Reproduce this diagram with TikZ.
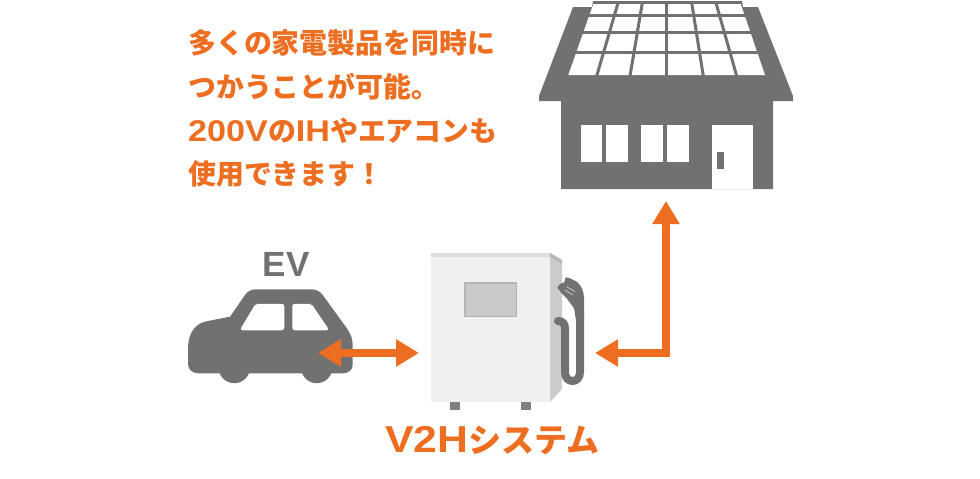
\documentclass[tikz,border=0pt]{standalone}
\usepackage{fontspec}
\usetikzlibrary{arrows.meta}
\newfontfamily\jpfont{Noto Sans CJK JP}
\newfontfamily\latinfont{Liberation Sans}
\newfontfamily\widefont[FakeStretch=1.14]{Liberation Sans}
\definecolor{orangeline}{HTML}{ED6E20}
\definecolor{iconfill}{HTML}{717171}
\tikzset{
  link/.style={draw=orangeline,line width=7.3pt,{Triangle[length=23pt,width=26pt]}-{Triangle[length=23pt,width=26pt]}},
  gridline/.style={draw=iconfill,line width=3pt},
  glass/.style={fill=white,draw=white,line width=1.5pt,rounded corners=2pt}
}
\newcommand{\notelatin}[1]{{\widefont\bfseries\fontsize{30}{43.7}\selectfont #1}}
\begin{document}
\begin{tikzpicture}[x=1pt,y=-1pt]
\useasboundingbox (0,0) rectangle (980,479);
% house
\fill [iconfill] (539,96) -- (573,7) -- (592,7) -- (593,1) -- (742,1) -- (743,7) -- (758,7) -- (793,96) -- (793,101) -- (773,101) -- (773,189) -- (561,189) -- (561,101) -- (539,101) -- cycle;
\fill [white] (593.3,4) -- (740.7,4) -- (765,75) -- (568.3,75) -- cycle;
\foreach \xa/\xb in {618/596.7,642.3/630,666.7/666.7,691.7/703.3,716/736.7}
{
    \draw [gridline] (\xa,3) -- (\xb,76);
}
\foreach \y/\xa/\xb in {15.7/588/746,32.5/582/752,52.7/575/759}
{
    \draw [gridline] (\xa,\y) -- (\xb,\y);
}
\foreach \x/\w in {581/21,606/22,641/22,667/22}
{
    \fill [white] (\x,125) rectangle (\x+\w,162);
}
\fill [white] (712,125) rectangle (753,189);
\fill [iconfill] (717,152) rectangle (724,169);
% car
\fill [iconfill] (234.3,367.5) circle (15.7);
\fill [iconfill] (316.7,367.5) circle (15.7);
\fill [iconfill] (188,350) .. controls (188,330) and (197,323) .. (208,321) -- (230,316.7) -- (245,295) .. controls (248,291) and (251,289.3) .. (256,289.3) -- (311,289.3) .. controls (316,289.3) and (319,291) .. (322,294) -- (343,323) .. controls (350,332) and (352.7,338) .. (352.7,345) -- (352.7,365) .. controls (352.7,370) and (348,373.3) .. (343,373.3) -- (198,373.3) .. controls (192,373.3) and (188,369) .. (188,364) -- cycle;
\path [glass] (256,304.5) -- (283.5,304.5) -- (283.5,329.5) -- (241,329.5) -- cycle;
\path [glass] (293,304.5) -- (311,304.5) -- (328,329.5) -- (293,329.5) -- cycle;
% v2h box
\fill [black!50] (450,400) rectangle (460,410);
\fill [black!50] (521,400) rectangle (531,410);
\fill [black!6] (431,253) rectangle (550,402);
\fill [black!13] (431,253) rectangle (550,257);
\fill [black!20] (550,253) -- (562,260) -- (562,389) -- (550,402) -- cycle;
\fill [black!28] (550,253) -- (562,260) -- (562,264) -- (550,257) -- cycle;
\draw [fill=black!21,draw=black!29,line width=1.5pt] (465,283) rectangle (516.5,316.5);
% cable
\draw [iconfill,line width=8pt,line cap=round] (558,321) .. controls (563,321) and (565,324) .. (565,329) -- (565,372) .. controls (565,384) and (580,384) .. (580,372) -- (580,315);
\fill [iconfill] (576,320) -- (574,308.3) -- (566.7,298.3) -- (561.7,293.3) -- (557.3,287.7) -- (560,284) -- (564.3,282.3) -- (565.7,277.3) -- (570,278.3) -- (576.7,281.7) .. controls (581,285) and (584,291) .. (584,298.3) -- (584,320) -- cycle;
\draw [black!30,line width=1.2pt] (566.7,286.7) -- (575,291.7);
\draw [black!30,line width=1.2pt] (565,290) -- (573,295);
% arrows
\coordinate (carport) at (318,353);
\coordinate (boxport) at (419,353);
\coordinate (cableport) at (595,353);
\coordinate (houseport) at (666,201);
\draw [link] (carport) -- (boxport);
\draw [link] (cableport) -| (houseport);
% labels
\node [anchor=north west,inner sep=0pt,align=left,text=orangeline,font=\jpfont\bfseries\fontsize{27.9}{43.7}\selectfont] (note) at (188,29.5) {多くの家電製品を同時に\\つかうことが可能。\\\notelatin{200V}の\notelatin{IH}やエアコンも\\使用できます！};
\node [text=iconfill,font=\latinfont\bfseries\fontsize{35}{40}\selectfont] (evlabel) at (286,264) {EV};
\node [text=orangeline,font=\jpfont\bfseries\fontsize{33}{40}\selectfont] (v2hlabel) at (492.5,440) {{\widefont\fontsize{37.5}{40}\selectfont V2H}システム};
\end{tikzpicture}
\end{document}
